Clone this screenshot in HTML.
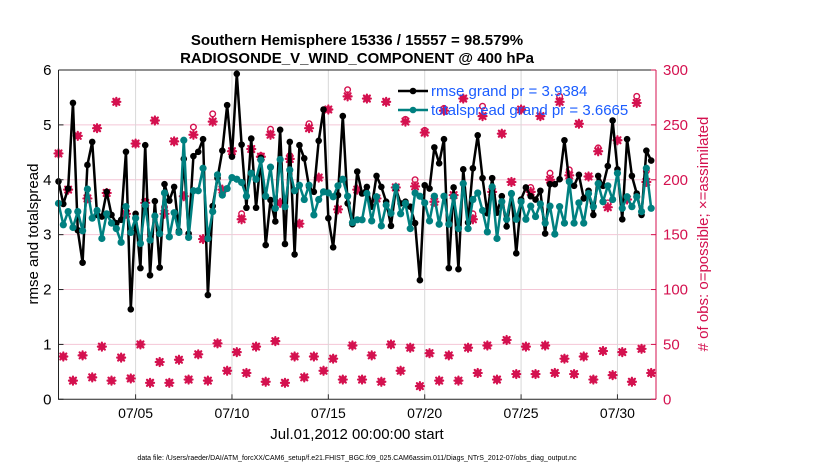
<!DOCTYPE html>
<html><head><meta charset="utf-8"><style>
body{margin:0;background:#fff;font-family:"Liberation Sans",sans-serif;}
svg text{font-family:"Liberation Sans",sans-serif;}
</style></head><body>
<svg id="chart" width="830" height="470" viewBox="0 0 830 470" xmlns="http://www.w3.org/2000/svg">
<rect width="830" height="470" fill="#fff"/>
<text x="357" y="45" text-anchor="middle" font-size="15" font-weight="bold">Southern Hemisphere 15336 / 15557 = 98.579%</text>
<text x="357" y="63" text-anchor="middle" font-size="15" font-weight="bold">RADIOSONDE_V_WIND_COMPONENT @ 400 hPa</text>
<g id="grid"></g>
<g id="marks"></g>
<g id="axes"></g>
<text transform="translate(38,234) rotate(-90)" text-anchor="middle" font-size="15">rmse and totalspread</text>
<text transform="translate(708,234) rotate(-90)" text-anchor="middle" font-size="15" fill="#d4114f"># of obs: o=possible; ×=assimilated</text>
<text x="357" y="439" text-anchor="middle" font-size="15">Jul.01,2012 00:00:00 start</text>
<text x="357" y="460" text-anchor="middle" font-size="7">data file: /Users/raeder/DAI/ATM_forcXX/CAM6_setup/f.e21.FHIST_BGC.f09_025.CAM6assim.011/Diags_NTrS_2012-07/obs_diag_output.nc</text>
<g id="legend"></g>
</svg>
<script>
const rmse=[3.97,3.56,3.84,5.40,3.08,2.49,4.27,4.69,3.36,3.33,3.78,3.36,3.21,3.27,4.51,1.64,3.38,2.39,4.63,2.26,3.61,2.40,3.92,3.62,3.87,3.07,4.38,3.02,4.43,4.51,4.74,1.90,3.52,4.03,4.53,5.36,4.42,5.93,4.64,3.49,4.75,3.49,4.40,2.81,3.63,3.24,4.91,2.83,4.69,2.64,4.63,4.39,3.87,3.78,4.71,5.28,3.30,2.77,3.72,5.16,3.57,3.19,4.15,3.75,3.87,3.51,4.07,3.87,3.60,3.16,3.84,3.57,3.60,3.51,3.21,2.17,3.90,3.84,4.59,4.30,4.74,2.39,3.86,2.37,4.19,3.22,4.21,4.81,4.03,3.39,4.03,3.40,3.70,3.15,3.74,2.66,3.64,3.86,3.70,3.64,3.80,3.02,3.92,3.92,4.01,4.72,3.96,3.89,4.09,3.66,3.80,3.36,4.07,3.89,4.25,5.08,4.19,3.28,4.74,4.07,3.75,3.36,4.53,4.35];
const spread=[3.57,3.18,3.42,3.13,3.42,3.07,3.83,3.30,3.44,2.93,3.38,3.21,3.11,2.86,3.51,3.04,3.30,2.84,3.54,2.90,3.34,3.02,3.76,2.96,3.40,3.04,4.72,2.95,3.80,3.80,4.21,2.93,3.42,4.09,3.72,3.84,4.04,4.01,3.95,3.70,4.12,4.01,4.36,3.70,4.23,3.48,4.37,3.51,4.18,3.80,3.90,3.64,3.90,3.36,3.64,3.78,3.76,3.69,3.89,4.01,3.70,3.22,3.27,3.27,3.75,3.25,3.69,3.16,3.54,3.39,3.87,3.38,3.57,3.11,3.76,3.70,3.58,3.25,3.70,3.19,3.70,3.19,3.69,3.11,3.93,3.11,3.64,3.76,3.44,3.05,3.87,2.93,3.60,3.28,3.75,3.28,3.60,3.28,3.52,3.33,3.56,3.21,3.52,3.01,3.51,3.21,3.97,3.21,3.58,3.21,3.75,3.51,3.93,3.60,3.89,3.64,4.12,3.48,3.69,3.51,3.69,3.42,4.21,3.48];
const assimilated=[224,39,191,17,240,40,183,20,247,48,188,17,271,38,169,19,233,50,179,15,254,34,169,15,235,36,185,18,241,41,146,17,253,51,191,26,226,43,164,24,228,48,221,16,241,53,179,15,219,39,160,20,247,39,202,26,264,37,173,18,276,49,191,18,274,40,183,16,271,50,193,26,253,47,194,12,243,42,180,17,263,40,186,17,274,47,164,24,258,49,189,18,242,54,198,23,264,48,189,23,258,49,200,24,271,37,204,23,251,39,203,18,226,44,175,22,236,43,182,16,270,46,198,24];
const possible=[224,39,191,17,240,40,183,20,247,48,188,17,271,38,169,19,233,50,179,15,254,34,175,15,235,36,185,18,248,41,146,17,260,51,191,26,226,43,169,24,228,48,222,16,246,53,179,15,222,39,160,20,251,39,202,26,264,37,173,18,282,49,191,18,274,40,183,16,271,50,193,26,255,47,200,12,245,42,185,17,265,40,186,17,274,47,169,24,267,49,189,18,242,54,198,23,264,48,193,23,258,49,206,24,276,37,209,23,251,39,203,18,229,44,179,22,236,43,182,16,276,46,208,24];
const yTicks=[0,1,2,3,4,5,6];
const y2Ticks=[0,50,100,150,200,250,300];
const xTickDays=[4,9,14,19,24,29];
const xTickLabels=["07/05","07/10","07/15","07/20","07/25","07/30"];
const stepDays=0.25;

const NS="http://www.w3.org/2000/svg";
const X0=58.5,X1=656,Y0=399.3,Y1=70,DAYS=31;
const xs=d=>X0+(X1-X0)*d/DAYS;
const ys=v=>Y0-(Y0-Y1)*v/6;
const ys2=v=>Y0-(Y0-Y1)*v/300;
const PINK="#d4114f",TEAL="#008080";
function mk(tag,attrs,parent){const e=document.createElementNS(NS,tag);for(const k in attrs)e.setAttribute(k,attrs[k]);parent.appendChild(e);return e;}
const grid=document.getElementById('grid'),marks=document.getElementById('marks'),axes=document.getElementById('axes'),legend=document.getElementById('legend');
mk('rect',{x:X0,y:Y1,width:X1-X0,height:Y0-Y1,fill:'#fff'},grid);
yTicks.forEach(v=>{if(v>0&&v<6){const l=mk('line',{x1:X0,x2:X1,y1:ys(v),y2:ys(v),stroke:'#f4c6d6','stroke-width':1},grid);

}});
xTickDays.forEach((d,i)=>{const l=mk('line',{x1:xs(d),x2:xs(d),y1:Y1,y2:Y0,stroke:'#d8d8d8','stroke-width':1},grid);


const t=mk('text',{x:xs(d),y:418,'text-anchor':'middle','font-size':14},axes);t.textContent=xTickLabels[i];


mk('line',{x1:xs(d),x2:xs(d),y1:Y0,y2:Y0-5,stroke:'#333'},axes);});
// pink obs counts
assimilated.forEach((v,i)=>{const x=xs(i*stepDays);
const p=possible[i];
const c=mk('circle',{cx:x,cy:ys2(p),r:2.8,fill:'none',stroke:PINK,'stroke-width':1.4},marks);


const y=ys2(v);
const g=mk('path',{d:`M${x-4},${y}H${x+4}M${x},${y-4}V${y+4}M${x-3},${y-3}L${x+3},${y+3}M${x-3},${y+3}L${x+3},${y-3}`,stroke:PINK,'stroke-width':2.2,'stroke-linecap':'round'},marks);


});
function series(arr,color,name,r){
 const pts=arr.map((v,i)=>xs(i*stepDays).toFixed(2)+','+ys(v).toFixed(2)).join(' ');
 const pl=mk('polyline',{points:pts,fill:'none',stroke:color,'stroke-width':2.5,'stroke-linejoin':'round'},marks);
 
 
 arr.forEach((v,i)=>{const c=mk('circle',{cx:xs(i*stepDays),cy:ys(v),r:r,fill:color},marks);
 
 });
}
series(rmse,'#000','rmse',3.3);
series(spread,TEAL,'totalspread',3.6);
// axes
mk('path',{d:`M${X0},${Y1}H${X1}M${X0},${Y1}V${Y0}H${X1}`,stroke:'#222','stroke-width':1,fill:'none'},axes);
mk('line',{x1:X1,x2:X1,y1:Y1,y2:Y0,stroke:PINK,'stroke-width':1},axes);
yTicks.forEach(v=>{mk('line',{x1:X0,x2:X0+5,y1:ys(v),y2:ys(v),stroke:'#222'},axes);
const t=mk('text',{x:X0-7,y:ys(v)+5,'text-anchor':'end','font-size':15},axes);t.textContent=v;

});
y2Ticks.forEach(v=>{mk('line',{x1:X1,x2:X1-5,y1:ys2(v),y2:ys2(v),stroke:PINK},axes);
const t=mk('text',{x:X1+7,y:ys2(v)+5,'text-anchor':'start','font-size':15,fill:PINK},axes);t.textContent=v;

});
// legend
[["rmse grand pr = 3.9384",'#000',91],["totalspread grand pr = 3.6665",TEAL,110]].forEach(([s,c,y])=>{
 mk('line',{x1:398,x2:428,y1:y,y2:y,stroke:c,'stroke-width':2.5},legend);
 mk('circle',{cx:413,cy:y,r:3.3,fill:c},legend);
 const t=mk('text',{x:431,y:y+5,'font-size':15,fill:'#1a5cff'},legend);t.textContent=s;
 
 
});
</script>
</body></html>
